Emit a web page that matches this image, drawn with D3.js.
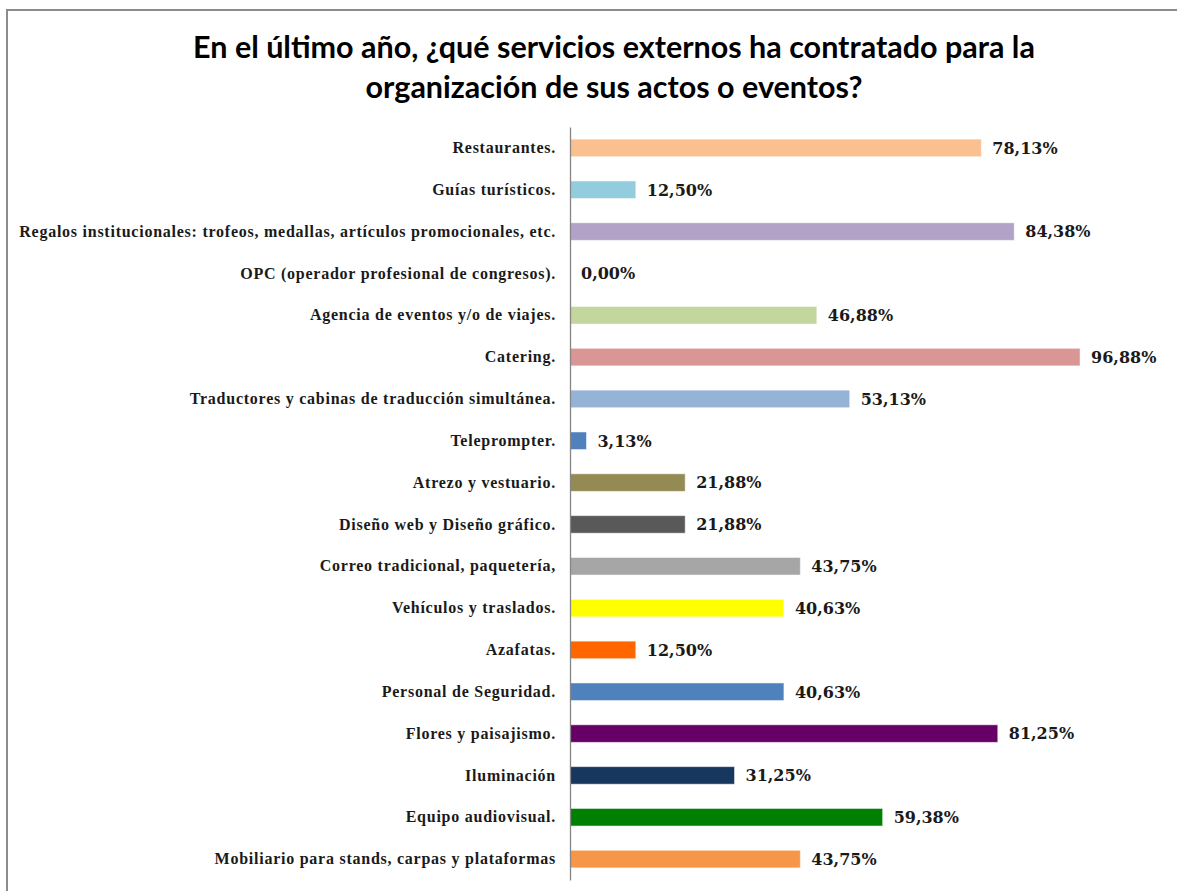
<!DOCTYPE html>
<html>
<head>
<meta charset="utf-8">
<script src="https://cdn.jsdelivr.net/npm/d3@7"></script>
<style>
  body { margin: 0; background: #fff; }
  .title { font-family: Lato, "Open Sans", sans-serif; font-weight: bold; fill: #000; }
  .axis--y text { font-family: "Liberation Serif", serif; font-weight: bold; font-size: 16px; letter-spacing: 0.75px; fill: #1a1a1a; }
  .axis--y path { stroke: #868686; stroke-width: 1.3; }
  .value { font-family: "DejaVu Serif", serif; font-weight: bold; font-size: 16px; fill: #1a1a1a; }
</style>
</head>
<body>
<svg id="chart" width="1177" height="891"></svg>
<script>

const titleLines = [
  "En el último año, ¿qué servicios externos ha contratado para la",
  "organización de sus actos o eventos?"
];

const categories = [
  "Restaurantes.",
  "Guías turísticos.",
  "Regalos institucionales: trofeos, medallas, artículos promocionales, etc.",
  "OPC (operador profesional de congresos).",
  "Agencia de eventos y/o de viajes.",
  "Catering.",
  "Traductores y cabinas de traducción simultánea.",
  "Teleprompter.",
  "Atrezo y vestuario.",
  "Diseño web y Diseño gráfico.",
  "Correo tradicional, paquetería,",
  "Vehículos y traslados.",
  "Azafatas.",
  "Personal de Seguridad.",
  "Flores y paisajismo.",
  "Iluminación",
  "Equipo audiovisual.",
  "Mobiliario para stands, carpas y plataformas"
];

const values = [78.13, 12.50, 84.38, 0.00, 46.88, 96.88, 53.13, 3.13, 21.88,
  21.88, 43.75, 40.63, 12.50, 40.63, 81.25, 31.25, 59.38, 43.75];

const colors = ["#fac090", "#93cddd", "#b3a2c7", "#cccccc", "#c3d69b", "#d99694",
  "#95b3d7", "#4f81bd", "#948a54", "#595959", "#a6a6a6", "#ffff00", "#ff6600",
  "#4f81bd", "#660066", "#17375e", "#008000", "#f79646"];

const svg = d3.select("#chart"),
  margin = {top: 127, right: 80, bottom: 11, left: 570},
  width = +svg.attr("width") - margin.left - margin.right,
  height = +svg.attr("height") - margin.top - margin.bottom;

// marco del gráfico
svg.append("rect")
    .attr("x", 7)
    .attr("y", 10)
    .attr("width", 1200)
    .attr("height", 900)
    .attr("fill", "none")
    .attr("stroke", "#8c8c8c")
    .attr("stroke-width", 2);

svg.append("g")
    .selectAll("text")
    .data(titleLines)
  .enter().append("text")
    .attr("class", "title")
    .attr("x", 614)
    .attr("y", (d, i) => 58 + i * 40)
    .attr("text-anchor", "middle")
    .style("font-size", "30.5px")
    .text(d => d);

const x = d3.scaleLinear().domain([0, 100]).range([0, 526.5]);
const y = d3.scaleBand().domain(categories).range([0, height])
    .paddingInner(0.58).paddingOuter(0.29);

const g = svg.append("g")
    .attr("transform", "translate(" + margin.left + "," + margin.top + ")");

const rows = categories.map((c, i) => ({cat: c, value: values[i], color: colors[i]}));

g.selectAll(".bar")
    .data(rows)
  .enter().append("rect")
    .attr("class", "bar")
    .attr("x", 0)
    .attr("y", d => y(d.cat))
    .attr("width", d => x(d.value))
    .attr("height", y.bandwidth())
    .attr("fill", d => d.color)
    .attr("stroke", "#ffffff")
    .attr("stroke-opacity", 0.5)
    .attr("stroke-width", 1);

const es = d3.formatLocale({decimal: ",", thousands: ".", grouping: [3], currency: ["", "€"]});
const fmt = es.format(".2f");

g.selectAll(".value")
    .data(rows)
  .enter().append("text")
    .attr("class", "value")
    .attr("x", d => x(d.value) + 11)
    .attr("y", d => y(d.cat) + y.bandwidth() / 2)
    .attr("dy", ".36em")
    .text(d => fmt(d.value) + "%");

g.append("g")
    .attr("class", "axis axis--y")
    .call(d3.axisLeft(y).tickSize(0).tickSizeOuter(0).tickPadding(14));

</script>
</body>
</html>
